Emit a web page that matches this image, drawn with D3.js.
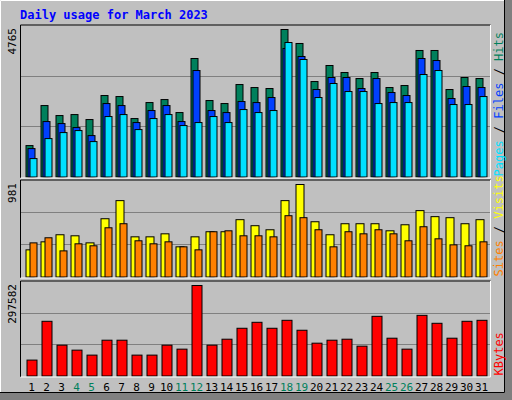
<!DOCTYPE html>
<html><head><meta charset="utf-8">
<script src="https://cdn.jsdelivr.net/npm/d3@7"></script>
<style>body{margin:0;background:#fff}svg{display:block}text{font-family:"DejaVu Sans Mono",monospace}</style>
</head><body><svg id="c" width="512" height="400"></svg>
<script>
const days = d3.range(1, 32)
const weekends = [4, 5, 11, 12, 18, 19, 25, 26]
const hits = [1015,2308,1985,2017,1856,2632,2599,1888,2405,2502,2082,3828,2470,2373,2987,2890,2858,4765,4313,3084,3602,3375,3181,3375,2890,2955,4087,4087,2826,3214,3181]
const files = [918,1791,1726,1597,1338,2373,2308,1759,2147,2308,1791,3440,2147,2082,2438,2405,2567,4151,3893,2826,3214,3214,2858,3181,2729,2632,3828,3763,2535,2923,2890]
const pages = [595,1241,1435,1500,1144,1953,2017,1532,1888,2017,1662,1759,1953,1759,2179,2082,2147,4345,3796,2567,3020,2761,2761,2373,2405,2405,3311,3440,2341,2341,2599]
const visits = [288,373,448,437,362,618,810,426,426,458,320,426,480,480,608,544,501,810,981,586,448,565,565,565,490,554,704,640,629,565,608]
const sites = [362,416,277,352,331,522,565,384,352,373,320,288,480,490,437,437,426,650,629,501,320,480,458,501,458,384,533,405,341,331,373]
const kbytes = [52320,179850,101370,85020,68670,117720,117720,68670,68670,101370,88290,297582,101370,120990,156960,176580,156960,183120,150420,107910,117720,120990,98100,196200,124260,88290,199470,173310,124260,179850,183120]

const svg = d3.select('#c')
const L = 20.5, R = 490.5
const x = d3.scaleLinear().domain([1, 31]).range([25.5, 475.5])

// frame
svg.append('rect').attr('x', 0).attr('y', 0).attr('width', 512).attr('height', 400).attr('fill', '#808080')
svg.append('rect').attr('x', 0).attr('y', 0).attr('width', 505).attr('height', 393).attr('fill', '#c0c0c0')
svg.append('path').attr('d', 'M0.5,393V0.5H505').attr('stroke', '#fff').attr('fill', 'none')
svg.append('path').attr('d', 'M0,392.5H504.5V0').attr('stroke', '#000').attr('fill', 'none')

svg.append('text').attr('x', 20).attr('y', 19).attr('fill', '#0000ff')
  .attr('font-size', 12).attr('font-weight', 'bold').text('Daily usage for March 2023')

function panel(top, base, max, label, series, rightLabel) {
  svg.append('rect').attr('x', L).attr('y', top).attr('width', R - L).attr('height', base - top + 1).attr('fill', '#c0c0c0')
  const h = base - top
  ;[1, 2].forEach(k => svg.append('line').attr('x1', L).attr('x2', R)
    .attr('y1', Math.round(top + h * k / 3) + 0.5).attr('y2', Math.round(top + h * k / 3) + 0.5).attr('stroke', '#808080'))
  const y = d3.scaleLinear().domain([0, max]).range([base, top + 4])
  series.forEach(s => {
    svg.append('g').selectAll('rect').data(s.values).join('rect')
      .attr('x', (d, i) => x(days[i]) + s.off + 0.5)
      .attr('y', d => y(d) + 0.5)
      .attr('width', s.w)
      .attr('height', d => base - y(d))
      .attr('fill', s.color).attr('stroke', '#000')
  })
  svg.append('path').attr('d', `M${L},${base + 1.5}V${top}H${R}`).attr('stroke', '#000').attr('fill', 'none')
  svg.append('path').attr('d', `M${L},${base + 1.5}H${R}V${top}`).attr('stroke', '#fff').attr('fill', 'none')
  svg.append('text').attr('transform', `translate(16,${top + 3}) rotate(-90)`)
    .attr('text-anchor', 'end').attr('font-size', 11).attr('fill', '#000').text(label)
  const t = svg.append('text').attr('transform', `translate(503,${base}) rotate(-90)`).attr('font-size', 12)
  rightLabel.forEach(([txt, col]) => t.append('tspan').attr('fill', col).text(txt))
}

panel(25, 176.5, 4765, '4765', [
  { values: hits, off: 0, w: 7, color: '#00805c' },
  { values: files, off: 2, w: 7, color: '#0040ff' },
  { values: pages, off: 4, w: 7, color: '#00e0ff' }
], [['Pages', '#00e0ff'], [' / ', '#000'], ['Files', '#0040ff'], [' / ', '#000'], ['Hits', '#00805c']])

panel(180, 276.5, 981, '981', [
  { values: visits, off: 0, w: 8, color: '#ffff00' },
  { values: sites, off: 4, w: 7, color: '#ff8000' }
], [['Sites', '#ff8000'], [' / ', '#000'], ['Visits', '#ffff00']])

panel(281, 375.5, 297582, '297582', [
  { values: kbytes, off: 1, w: 10, color: '#ff0000' }
], [['KBytes', '#ff0000']])

svg.append('g').selectAll('text').data(days).join('text')
  .attr('x', d => x(d) + 6).attr('y', 391).attr('text-anchor', 'middle').attr('font-size', 11)
  .attr('font-family', 'DejaVu Sans, sans-serif')
  .attr('fill', d => weekends.includes(d) ? '#00805c' : '#000').text(d => d)
</script></body></html>
